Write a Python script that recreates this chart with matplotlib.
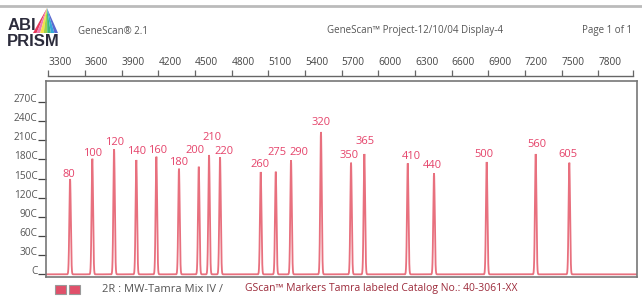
import numpy as np
import matplotlib
matplotlib.use("Agg")
import matplotlib.pyplot as plt
from matplotlib.patches import Polygon, Rectangle

# ---------------- data ----------------
peak_sizes = ["80", "100", "120", "140", "160", "180", "200", "210", "220", "260",
              "275", "290", "320", "350", "365", "410", "440", "500", "560", "605"]
peak_scans = [3478, 3660, 3838, 4020, 4184, 4369, 4531, 4615, 4705, 5038,
              5161, 5286, 5531, 5777, 5886, 6241, 6456, 6887, 7288, 7563]
peak_heights = [1493, 1811, 1959, 1791, 1843, 1655, 1686, 1869, 1833, 1603,
                1608, 1786, 2230, 1749, 1885, 1739, 1583, 1760, 1885, 1749]
label_scans = [3472, 3660, 3846, 4023, 4192, 4369, 4500, 4637, 4738, 5032,
               5171, 5349, 5531, 5763, 5891, 6268, 6442, 6867, 7296, 7555]
label_values = [1570, 1900, 2060, 1920, 1945, 1750, 1940, 2150, 1930, 1720,
                1910, 1910, 2380, 1855, 2085, 1845, 1705, 1875, 2035, 1875]

ruler_ticks = [3300, 3600, 3900, 4200, 4500, 4800, 5100, 5400, 5700, 6000,
               6300, 6600, 6900, 7200, 7500, 7800]
ruler_end = 8087
y_ticks = [0, 300, 600, 900, 1200, 1500, 1800, 2100, 2400, 2700]
y_tick_labels = ["C", "30C", "60C", "90C", "120C", "150C", "180C", "210C", "240C", "270C"]
x_range = (3281, 8117)
y_range = (-34, 3029)
peak_sigma = 6.0

# ---------------- figure ----------------
W, H = 642, 297
fig = plt.figure(figsize=(W / 100, H / 100), dpi=100)
fig.patch.set_facecolor("white")
FONT = ["Open Sans", "DejaVu Sans"]

def fx(px):
    return px / W

def fy(py):
    return 1 - py / H

# main axes
L, R, T, B = 46, 637, 81, 276.5
ax = fig.add_axes([fx(L), fy(B), fx(R) - fx(L), fy(T) - fy(B)])
xs = np.arange(x_range[0], x_range[1], 0.5)
trace = np.zeros_like(xs)
for p, h in zip(peak_scans, peak_heights):
    trace += h * np.exp(-0.5 * ((xs - p) / peak_sigma) ** 2)
ax.plot(xs, trace, color="#e8707e", lw=1.3, solid_joinstyle="miter")
ax.set_xlim(*x_range)
ax.set_ylim(*y_range)
for lab, lx, ly in zip(peak_sizes, label_scans, label_values):
    ax.text(lx, ly, lab, ha="center", va="center", fontsize=8,
            color="#e5436a", family=FONT)
ax.set_xticks([])
ax.set_yticks(y_ticks)
ax.set_yticklabels(y_tick_labels, family=FONT, fontsize=7.3, color="#555555")
for lbl in ax.get_yticklabels():
    lbl.set_verticalalignment("baseline")
ax.tick_params(axis="y", direction="out", length=6, width=0.9, color="#444444", pad=0)
for s in ax.spines.values():
    s.set_color("#777777")
    s.set_linewidth(1.2)

# ruler axes on top
ry = 76
axr = fig.add_axes([fx(L), fy(ry) - 0.001, fx(R) - fx(L), 0.001])
axr.set_xlim(*x_range)
axr.set_ylim(0, 1)
axr.patch.set_visible(False)
for k in ["left", "right", "bottom"]:
    axr.spines[k].set_visible(False)
axr.spines["top"].set_bounds(ruler_ticks[0], ruler_end)
axr.spines["top"].set_color("#666666")
axr.spines["top"].set_linewidth(1.0)
axr.set_yticks([])
axr.xaxis.tick_top()
axr.set_xticks(ruler_ticks + [ruler_end])
axr.set_xticklabels([str(t) for t in ruler_ticks] + [""], family=FONT,
                    fontsize=7.3, color="#444444")
for lbl in axr.get_xticklabels():
    lbl.set_horizontalalignment("left")
axr.tick_params(axis="x", direction="out", length=4, width=0.9, color="#666666", pad=2)

# decoration overlay in pixel coordinates
ov = fig.add_axes([0, 0, 1, 1], zorder=-1)
ov.set_xlim(0, W)
ov.set_ylim(H, 0)
ov.axis("off")
ov.plot([0, W], [6, 6], color="#bbbbbb", lw=2)

# logo triangle (prism with rainbow fan)
apex = (47, 8)
bl, br = (33, 33), (58, 33)
cols = ["#e8385a", "#f07ab0", "#f5e04a", "#9fd34a", "#3cb878", "#35a8d8", "#5a6ad0"]
n = len(cols)
for i, c in enumerate(cols):
    x0 = bl[0] + (br[0] - bl[0]) * i / n
    x1 = bl[0] + (br[0] - bl[0]) * (i + 1) / n
    ov.add_patch(Polygon([apex, (x0, 33), (x1, 33)], closed=True, fc=c, ec="none"))
ov.text(8, 26, "ABI", fontsize=12, fontweight="bold", color="#2c2c3c",
        family=["Liberation Sans Narrow", "Liberation Sans", "DejaVu Sans"],
        ha="left", va="center")
ov.text(7, 41, "PRISM", fontsize=12, fontweight="bold", color="#2c2c3c",
        family=["Liberation Sans Narrow", "Liberation Sans", "DejaVu Sans"],
        ha="left", va="center")

ov.text(78, 31, "GeneScan® 2.1", fontsize=7, color="#555555", family=FONT,
        ha="left", va="center")
ov.text(415, 31, "GeneScan™ Project-12/10/04 Display-4", fontsize=7, color="#555555",
        family=FONT, ha="center", va="center")
ov.text(632, 31, "Page 1 of 1", fontsize=7, color="#555555", family=FONT,
        ha="right", va="center")

# bottom legend
for x0 in (55, 69):
    ov.add_patch(Rectangle((x0, 285), 11, 9, fc="#e0506a", ec="#999999", lw=0.8))
ov.text(102, 290, "2R : MW-Tamra Mix IV /", fontsize=8, color="#555555",
        family=FONT, ha="left", va="center")
ov.text(245, 289, "GScan™ Markers Tamra labeled Catalog No.: 40-3061-XX", fontsize=7.5,
        color="#9c2a3a", family=FONT, ha="left", va="center")

fig.savefig("out.png", dpi=100, facecolor="white")
